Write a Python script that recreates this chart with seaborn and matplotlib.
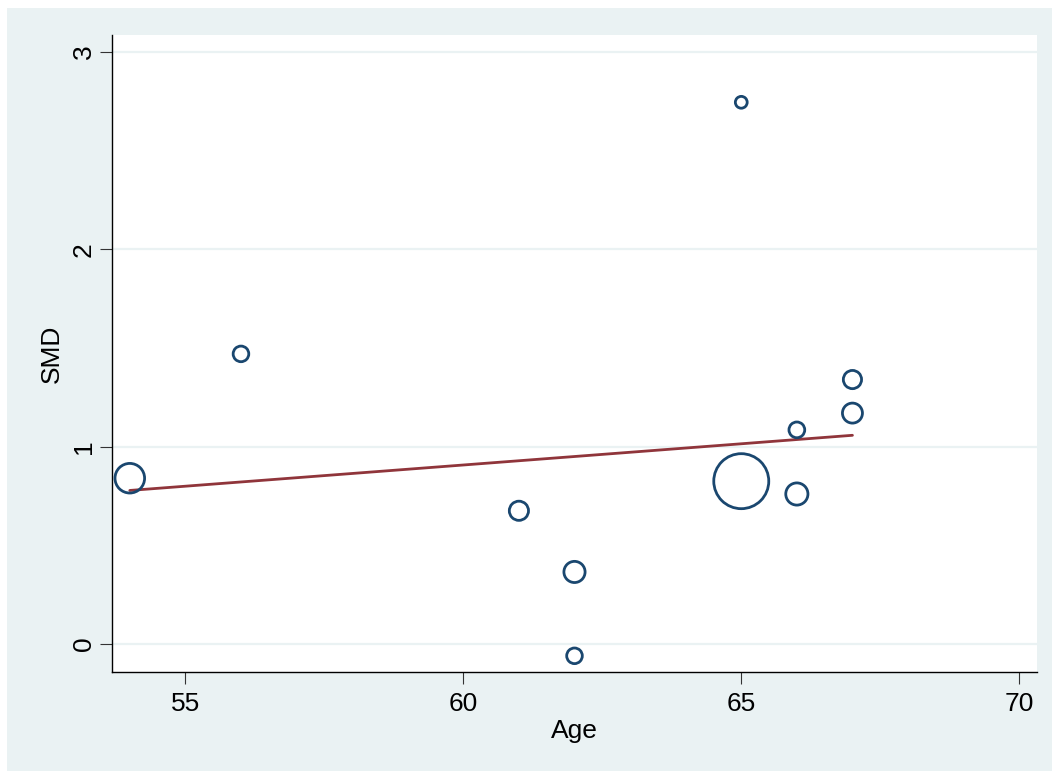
import numpy as np
import pandas as pd
import matplotlib
matplotlib.use("Agg")
import matplotlib.pyplot as plt
import seaborn as sns

# study-level data
age = [54, 56, 61, 62, 62, 65, 65, 66, 66, 67, 67]
smd = [0.84, 1.47, 0.675, 0.365, -0.06, 2.745, 0.825, 1.085, 0.76, 1.34, 1.17]
weight = [21.9, 6.1, 9.2, 11.2, 6.1, 3.5, 75.6, 6.2, 12.3, 8.3, 10.0]

# meta-regression fit
fit_intercept = -0.383
fit_slope = 0.0215

x_ticks = [55, 60, 65, 70]
y_ticks = [0, 1, 2, 3]

navy = "#1A476F"
maroon = "#90353B"
bg = "#EAF2F3"

df = pd.DataFrame({"Age": age, "SMD": smd, "w": weight})
fit_x = np.array([min(age), max(age)])
fit = pd.DataFrame({"Age": fit_x, "SMD": fit_intercept + fit_slope * fit_x})

sns.set_style("white")
plt.rcParams["font.family"] = ["Liberation Sans", "DejaVu Sans"]
plt.rcParams["text.color"] = "black"
plt.rcParams["axes.labelcolor"] = "black"

fig = plt.figure(figsize=(10.52, 7.71), dpi=100, facecolor="white")
fig.patches.append(plt.Rectangle((7 / 1052, -0.1), 2, 1.1 - 8 / 771, transform=fig.transFigure,
                                 facecolor=bg, edgecolor="none", zorder=-10))
ax = fig.add_axes([112 / 1052, 1 - 672 / 771, (1037 - 112) / 1052, (672 - 35) / 771])
ax.set_facecolor("white")

max_s = 1568
sns.scatterplot(data=df, x="Age", y="SMD", size="w", sizes=(0, max_s), size_norm=(0, max(weight)),
                facecolor="none", edgecolor=navy, linewidth=2.0, legend=False, ax=ax, zorder=3)
sns.lineplot(data=fit, x="Age", y="SMD", color=maroon, linewidth=2, ax=ax, zorder=2)

ax.set_xlim(53.68, 70.32)
ax.set_ylim(-0.142, 3.086)
ax.set_xticks(x_ticks)
ax.set_yticks(y_ticks)
ax.set_yticklabels([str(t) for t in y_ticks], rotation=90, va="center")
ax.grid(axis="y", color=bg, linewidth=1.6)
ax.grid(axis="x", visible=False)
ax.set_axisbelow(True)

for side in ["top", "right"]:
    ax.spines[side].set_visible(False)
for side in ["left", "bottom"]:
    ax.spines[side].set_color("black")
    ax.spines[side].set_linewidth(1.0)

ax.tick_params(axis="both", bottom=True, left=True, direction="out", length=8.5, width=0.8,
               color="#333333", labelsize=19, labelcolor="black")
ax.tick_params(axis="x", pad=6)
ax.tick_params(axis="y", pad=3)
ax.set_xlabel("Age", fontsize=19, labelpad=2)
ax.set_ylabel("SMD", fontsize=19, labelpad=6)

fig.savefig("out.png", dpi=100, facecolor=fig.get_facecolor())
